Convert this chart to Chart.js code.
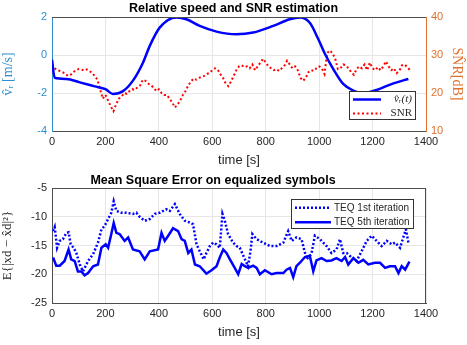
<!DOCTYPE html>
<html>
<head>
<meta charset="utf-8">
<script src="https://cdn.jsdelivr.net/npm/chart.js@4.4.0/dist/chart.umd.min.js"></script>
<style>
body { margin: 0; background: #fff; }
canvas { display: block; }
</style>
</head>
<body>
<canvas id="SpeedChart" width="467" height="172"></canvas>
<canvas id="MseChart" width="467" height="173"></canvas>
<script>
// --- top plot: relative speed and SNR ---
const speedTime = [0, 10, 54, 104, 160, 200, 228, 266, 303, 341, 366, 403, 466, 503, 553, 616, 690, 753, 828, 890, 928, 965, 997, 1022, 1053, 1090, 1128, 1165, 1215, 1278, 1334];
const speedValues = [-0.25, -1.2, -1.26, -1.44, -1.65, -1.8, -2.05, -1.9, -1.35, -0.39, 0.48, 1.44, 1.97, 1.88, 1.53, 1.23, 1.09, 1.18, 1.53, 1.88, 1.97, 1.7, 0.83, 0.05, -0.74, -1.52, -1.87, -2.01, -1.84, -1.49, -1.26];

const snrStep = 10; // one SNR estimate every 10 s, starting at 0
const snrValues = [
    27.5, 26.5, 26, 25.8, 25.5, 25, 24.5, 24.8, 25.5, 26,
    26.3, 26.2, 25.9, 26.2, 25.8, 25.3, 24.5, 23.5, 21, 18.5,
    19.5, 18, 16.5, 15.2, 17, 18.5, 19, 20, 19.8, 20.5,
    21, 20.8, 21.5, 22, 23.5, 23.2, 22.5, 22, 21.5, 20.5,
    21, 20, 19.5, 19.5, 18.5, 17.5, 16.2, 17, 18, 19.5,
    20.5, 22, 23, 23.8, 23.5, 24, 24.2, 24.5, 25, 25.3,
    26, 26.5, 26.2, 25, 24, 22.5, 21.8, 23, 24.5, 26,
    27, 27.3, 26.8, 27, 26.5, 27.5, 26, 27, 28, 29,
    28, 27, 26.5, 26, 26.3, 25.8, 26.5, 27.2, 28.5, 27.5,
    26.5, 27, 26, 24, 23.2, 24, 25.5, 26, 25.8, 26.5,
    27, 26.5, 25, 30.5, 31.2, 30.5, 29, 26.3, 26.5, 27.5,
    27.3, 26.5, 25.5, 24.8, 26.3, 27, 26.5, 27.5, 26, 28,
    26.5, 26, 26.8, 26, 27, 28.3, 27, 26, 26.5, 25.2,
    25.8, 27.3, 27.5, 26.8, 26
];

// --- bottom plot: MSE on equalized symbols ---
const teq1Time = [4, 10, 19, 29, 41, 54, 62, 70, 81, 91, 104, 116, 135, 154, 172, 185, 197, 210, 222, 231, 241, 260, 278, 303, 316, 328, 347, 366, 385, 403, 428, 441, 460, 478, 497, 516, 528, 541, 553, 568, 578, 591, 603, 616, 628, 638, 647, 659, 678, 691, 703, 722, 734, 743, 750, 766, 790, 816, 841, 866, 884, 897, 915, 934, 953, 971, 984, 1003, 1028, 1046, 1065, 1078, 1090, 1103, 1122, 1140, 1159, 1178, 1197, 1215, 1234, 1253, 1272, 1284, 1303, 1315, 1325, 1334];
const teq1Values = [-12.5, -11.8, -15.4, -14.2, -13.9, -12.8, -12.7, -14.8, -15.4, -16.3, -18.3, -19.5, -17.7, -16.5, -14.5, -12.2, -11.6, -10.4, -9.3, -7.3, -9.0, -9.3, -9.3, -9.5, -9.3, -10.0, -10.7, -10.4, -9.5, -9.3, -8.7, -9.0, -7.8, -9.5, -10.7, -11.0, -11.3, -14.8, -16.0, -17.4, -16.3, -15.1, -14.5, -14.8, -15.4, -9.5, -10.7, -13.0, -14.5, -15.1, -15.4, -17.4, -18.6, -16.0, -13.0, -13.9, -14.5, -15.1, -15.1, -14.5, -12.5, -14.2, -13.6, -13.9, -17.4, -16.5, -13.3, -13.9, -15.1, -16.3, -15.7, -13.9, -16.3, -16.3, -17.1, -17.7, -16.0, -14.2, -13.3, -14.2, -15.1, -14.2, -14.8, -14.5, -15.4, -13.6, -12.2, -14.5];

const teq5Time = [4, 16, 29, 47, 62, 72, 85, 97, 110, 122, 135, 154, 172, 185, 201, 210, 222, 231, 241, 253, 272, 285, 303, 328, 347, 366, 397, 410, 422, 435, 453, 472, 485, 497, 510, 522, 535, 553, 578, 597, 616, 628, 641, 653, 666, 684, 697, 710, 722, 734, 753, 766, 778, 797, 822, 841, 866, 878, 891, 903, 915, 928, 947, 965, 978, 990, 1009, 1028, 1046, 1065, 1084, 1097, 1109, 1128, 1147, 1165, 1184, 1209, 1228, 1247, 1265, 1284, 1297, 1309, 1322, 1338];
const teq5Values = [-17.1, -18.5, -18.5, -17.7, -15.7, -17.4, -17.7, -19.5, -19.5, -20.2, -19.8, -18.6, -18.3, -15.4, -14.8, -15.4, -13.0, -11.1, -12.8, -13.0, -14.2, -13.6, -15.7, -16.0, -17.4, -16.0, -15.7, -12.8, -14.2, -13.3, -12.0, -12.5, -13.9, -14.2, -16.3, -15.7, -18.3, -18.6, -19.9, -19.3, -18.6, -17.1, -15.7, -16.3, -17.4, -18.9, -20.0, -18.2, -18.6, -18.9, -18.5, -18.9, -20.0, -19.3, -20.0, -19.8, -19.8, -19.2, -18.9, -20.5, -18.6, -18.0, -17.0, -16.8, -19.5, -17.6, -17.2, -17.7, -17.6, -17.2, -17.7, -17.0, -18.3, -17.2, -18.0, -17.5, -18.3, -18.0, -18.0, -18.9, -18.6, -18.6, -19.8, -18.6, -19.2, -17.8];

const SANS = 'Liberation Sans, Arial, sans-serif';
const TICK_FONT = { family: SANS, size: 11 };
const TEXT_GREY = '#262626';
const GRID_GREY = '#e6e6e6';
const plainTick = v => String(v);

function toPoints(xs, ys) {
    return ys.map((y, i) => ({ x: xs[i], y: y }));
}

// box around the axes + legend inside the plot, matlab style
const boxAndLegend = {
    id: 'boxAndLegend',
    afterDraw(chart, args, opts) {
        const ctx = chart.ctx;
        const a = chart.chartArea;
        ctx.save();
        ctx.strokeStyle = '#4d4d4d';
        ctx.lineWidth = 1;
        ctx.beginPath();
        ctx.moveTo(a.left, a.top + 0.5);
        ctx.lineTo(a.right, a.top + 0.5);
        if (opts.rightEdge) {
            ctx.moveTo(a.right - 0.5, a.top);
            ctx.lineTo(a.right - 0.5, a.bottom);
        }
        ctx.stroke();

        const lg = opts.legend;
        ctx.fillStyle = '#fff';
        ctx.fillRect(lg.x, lg.y, lg.w, lg.h);
        ctx.strokeStyle = '#333';
        ctx.strokeRect(lg.x + 0.5, lg.y + 0.5, lg.w, lg.h);
        lg.items.forEach((it, i) => {
            const yy = lg.y + lg.rowH * (i + 0.5) + 1.5;
            ctx.beginPath();
            ctx.setLineDash(it.dash);
            ctx.lineCap = 'butt';
            ctx.strokeStyle = it.color;
            ctx.lineWidth = it.width;
            ctx.moveTo(lg.x + 4, yy);
            ctx.lineTo(lg.x + 4 + lg.lineLen, yy);
            ctx.stroke();
            ctx.setLineDash([]);
            ctx.fillStyle = TEXT_GREY;
            ctx.font = it.font;
            ctx.textBaseline = 'middle';
            ctx.textAlign = lg.alignRight ? 'right' : 'left';
            ctx.fillText(it.text, lg.alignRight ? lg.x + lg.w - 3 : lg.x + lg.lineLen + 7, yy);
        });
        ctx.restore();
    }
};

let speedCtx = document.getElementById('SpeedChart').getContext('2d');
let speedChart = new Chart(speedCtx, {
    type: 'line',
    data: {
        datasets: [
            {
                label: 'v_r(t)',
                data: toPoints(speedTime, speedValues),
                borderColor: '#0000ff',
                borderWidth: 2.5,
                pointRadius: 0,
                cubicInterpolationMode: 'monotone',
                yAxisID: 'y'
            },
            {
                label: 'SNR',
                data: snrValues.map((v, i) => ({ x: i * snrStep, y: v })),
                borderColor: '#ff0000',
                borderWidth: 2,
                borderDash: [2, 2.5],
                borderCapStyle: 'butt',
                pointRadius: 0,
                tension: 0,
                yAxisID: 'y1'
            }
        ]
    },
    options: {
        responsive: false,
        animation: false,
        layout: { padding: { top: 1, right: 0, bottom: 4 } },
        plugins: {
            legend: { display: false },
            tooltip: { enabled: false },
            title: {
                display: true,
                text: 'Relative speed and SNR estimation',
                color: '#000',
                font: { family: SANS, size: 12.5, weight: 'bold' },
                padding: { top: 0, bottom: 1 }
            },
            boxAndLegend: {
                rightEdge: false,
                legend: {
                    x: 349, y: 91, w: 66, h: 28, rowH: 14, lineLen: 28, alignRight: true,
                    items: [
                        { text: 'v\u0302\u1d63(t)', color: '#0000ff', width: 2.5, dash: [], font: 'italic 11px "Liberation Serif", serif' },
                        { text: 'SNR', color: '#ff0000', width: 2, dash: [2, 2.5], font: '11px "Liberation Serif", serif' }
                    ]
                }
            }
        },
        scales: {
            x: {
                type: 'linear',
                min: 0,
                max: 1400,
                afterFit(scale) { scale.height = 37; },
                ticks: { stepSize: 200, color: TEXT_GREY, font: TICK_FONT, padding: 4, maxRotation: 0, callback: plainTick },
                grid: { color: GRID_GREY, drawTicks: false },
                border: { color: '#4d4d4d' },
                title: { display: true, text: 'time [s]', color: TEXT_GREY, font: { family: SANS, size: 13 }, padding: { top: 2, bottom: 0 } }
            },
            y: {
                position: 'left',
                min: -4,
                max: 2,
                afterFit(scale) { scale.width = 52; },
                ticks: { stepSize: 2, color: '#2f8fd0', font: TICK_FONT, padding: 5, callback: plainTick },
                grid: { color: GRID_GREY, drawTicks: false },
                border: { color: '#2f8fd0' },
                title: { display: true, text: 'v\u0302\u1d63 [m/s]', color: '#2f8fd0', font: { family: 'Liberation Serif, serif', size: 14 }, padding: { top: 0, bottom: 4 } }
            },
            y1: {
                position: 'right',
                min: 10,
                max: 40,
                afterFit(scale) { scale.width = 41; },
                ticks: { stepSize: 10, color: '#e0722e', font: TICK_FONT, padding: 5, callback: plainTick },
                grid: { display: false, drawTicks: false },
                border: { color: '#e0722e' },
                title: { display: true, text: 'SN\u0302R[dB]', color: '#e0722e', font: { family: 'Liberation Serif, serif', size: 14 }, padding: { top: 2, bottom: 0 } }
            }
        }
    },
    plugins: [boxAndLegend]
});

let mseCtx = document.getElementById('MseChart').getContext('2d');
let mseChart = new Chart(mseCtx, {
    type: 'line',
    data: {
        datasets: [
            {
                label: 'TEQ 1st iteration',
                data: toPoints(teq1Time, teq1Values),
                borderColor: '#0000ff',
                borderWidth: 2.5,
                borderDash: [2, 2],
                borderCapStyle: 'butt',
                pointRadius: 0,
                tension: 0
            },
            {
                label: 'TEQ 5th iteration',
                data: toPoints(teq5Time, teq5Values),
                borderColor: '#0000ff',
                borderWidth: 2.5,
                pointRadius: 0,
                tension: 0
            }
        ]
    },
    options: {
        responsive: false,
        animation: false,
        layout: { padding: { top: 1, right: 41, bottom: 5 } },
        plugins: {
            legend: { display: false },
            tooltip: { enabled: false },
            title: {
                display: true,
                text: 'Mean Square Error on equalized symbols',
                color: '#000',
                font: { family: SANS, size: 12.5, weight: 'bold' },
                padding: { top: 0, bottom: 0 }
            },
            boxAndLegend: {
                rightEdge: true,
                legend: {
                    x: 291, y: 27, w: 122, h: 29, rowH: 14.5, lineLen: 36, alignRight: false,
                    items: [
                        { text: 'TEQ 1st iteration', color: '#0000ff', width: 2.5, dash: [2, 2], font: '10px "Liberation Sans", Arial, sans-serif' },
                        { text: 'TEQ 5th iteration', color: '#0000ff', width: 2.5, dash: [], font: '10px "Liberation Sans", Arial, sans-serif' }
                    ]
                }
            }
        },
        scales: {
            x: {
                type: 'linear',
                min: 0,
                max: 1400,
                afterFit(scale) { scale.height = 37; },
                ticks: { stepSize: 200, color: TEXT_GREY, font: TICK_FONT, padding: 4, maxRotation: 0, callback: plainTick },
                grid: { color: GRID_GREY, drawTicks: false },
                border: { color: '#4d4d4d' },
                title: { display: true, text: 'time [s]', color: TEXT_GREY, font: { family: SANS, size: 13 }, padding: { top: 2, bottom: 0 } }
            },
            y: {
                min: -25,
                max: -5,
                afterFit(scale) { scale.width = 52; },
                ticks: { stepSize: 5, color: TEXT_GREY, font: TICK_FONT, padding: 5, callback: plainTick },
                grid: { color: GRID_GREY, drawTicks: false },
                border: { color: '#4d4d4d' },
                title: { display: true, text: 'E{|xd \u2212 x\u0302d|\u00b2}', color: TEXT_GREY, font: { family: 'Liberation Serif, serif', size: 13 }, padding: { top: 0, bottom: 3 } }
            }
        }
    },
    plugins: [boxAndLegend]
});
</script>
</body>
</html>
